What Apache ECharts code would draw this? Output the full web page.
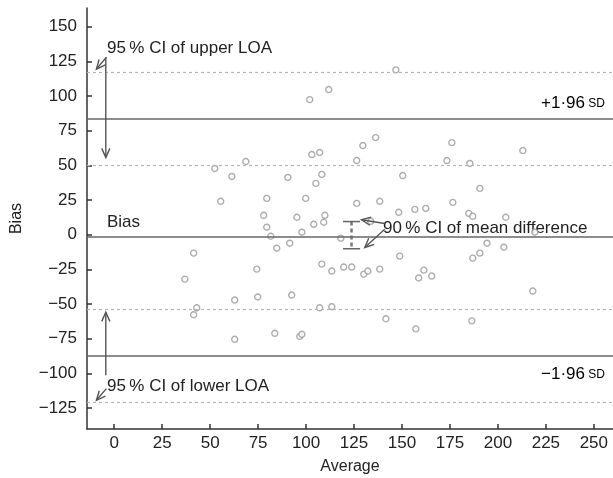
<!DOCTYPE html>
<html>
<head>
<meta charset="utf-8">
<script src="https://cdn.jsdelivr.net/npm/echarts@6/dist/echarts.min.js"></script>
<style>
  html, body { margin: 0; padding: 0; background: #fff; }
  #chart { width: 613px; height: 478px; }
</style>
</head>
<body>
<div id="chart"></div>
<script>
// tick labels
var xTicks = [0, 25, 50, 75, 100, 125, 150, 175, 200, 225, 250];
var yTicks = [-125, -100, -75, -50, -25, 0, 25, 50, 75, 100, 125, 150];

// average (x) and bias (y) of each pair
var avgValues = [
  146.8, 111.8, 101.9, 136.3, 129.6, 176.0, 103.0, 107.1, 126.4, 173.4,
  185.4, 213.0, 68.6, 52.4, 61.3, 90.5, 108.2, 105.1, 150.4, 190.6,
  55.5, 79.5, 99.8, 126.4, 138.4, 176.5, 77.9, 95.2, 109.8, 148.3,
  156.7, 162.4, 184.8, 186.9, 204.1, 104.0, 109.2, 79.5, 81.6, 97.8,
  84.7, 91.5, 118.1, 133.7, 219.2, 41.4, 36.8, 74.3, 108.2, 113.4,
  119.6, 123.8, 130.1, 132.2, 138.4, 148.8, 158.7, 161.4, 165.5, 186.9,
  190.6, 194.3, 203.1, 218.2, 62.8, 74.8, 92.5, 43.0, 41.4, 107.1,
  113.4, 141.6, 186.4, 62.8, 83.7, 96.7, 97.8, 157.2
];
var biasValues = [
  118.9, 104.7, 97.4, 70.0, 64.3, 66.4, 57.8, 59.3, 53.5, 53.5,
  51.4, 60.7, 52.8, 47.8, 42.0, 41.3, 43.5, 37.0, 42.7, 33.4,
  24.1, 26.2, 26.2, 22.6, 24.1, 23.3, 14.0, 12.6, 14.0, 16.2,
  18.3, 19.0, 15.4, 13.3, 12.6, 7.5, 9.0, 5.4, -1.1, 1.8,
  -9.7, -6.1, -2.5, 9.7, 1.8, -13.3, -32.0, -24.8, -21.2, -26.2,
  -23.3, -23.3, -28.4, -26.2, -24.8, -15.4, -31.2, -25.5, -29.8, -16.9,
  -13.3, -6.1, -9.0, -40.6, -47.1, -44.9, -43.5, -52.7, -57.7, -52.7,
  -51.9, -60.6, -62.1, -75.4, -71.1, -73.3, -71.8, -67.9
];

// limits of agreement and their confidence intervals
var meanBias = -1.3;
var upperLoa = 83.7;
var lowerLoa = -87.1;
var upperLoaCi = [50.1, 117.5];
var lowerLoaCi = [-120.5, -54.0];
var meanCi = [123.7, -10.1, 9.5]; // x, low, high

// annotation arrows: [x1, y1, x2, y2] (arrow head at the 2nd point)
var arrows = [
  [-4.4, 128.2, -4.4, 55.7],
  [-4.1, 128.0, -9.3, 119.4],
  [-4.4, -101.4, -4.4, -55.9],
  [-4.1, -111.0, -9.3, -119.4],
  [141.0, 8.1, 128.9, 10.8],
  [141.0, 4.0, 130.6, -9.2]
];

var font = "'Liberation Sans', Arial, sans-serif";
var points = avgValues.map(function (v, i) { return [v, biasValues[i]]; });

function minus(v) {
  return v < 0 ? '\u2212' + (-v) : String(v);
}

var myChart = echarts.init(document.getElementById('chart'));

var option = {
  animation: false,
  backgroundColor: '#fff',
  textStyle: { fontFamily: font },
  grid: { left: 87, right: 0, top: 8, bottom: 49, outerBoundsMode: 'none', containLabel: false },
  xAxis: {
    type: 'value',
    min: -14.2,
    max: 260,
    name: 'Average',
    nameLocation: 'middle',
    nameGap: 30,
    nameTextStyle: { fontSize: 16, color: '#222', fontFamily: font },
    axisLine: { onZero: false, lineStyle: { color: '#333', width: 1.5 } },
    axisTick: { inside: true, length: 5, customValues: xTicks, lineStyle: { color: '#333', width: 1.5 } },
    axisLabel: { customValues: xTicks, fontSize: 17, color: '#222', margin: 6, fontFamily: font },
    splitLine: { show: false }
  },
  yAxis: {
    type: 'value',
    min: -140.1,
    max: 163.5,
    name: 'Bias',
    nameLocation: 'middle',
    nameGap: 62,
    nameTextStyle: { fontSize: 16, color: '#222', fontFamily: font },
    axisLine: { onZero: false, lineStyle: { color: '#333', width: 1.5 } },
    axisTick: { inside: true, length: 5, customValues: yTicks, lineStyle: { color: '#333', width: 1.5 } },
    axisLabel: { customValues: yTicks, fontSize: 17, color: '#222', margin: 10, fontFamily: font, formatter: minus },
    splitLine: { show: false }
  },
  series: [
    {
      type: 'scatter',
      data: points,
      symbol: 'circle',
      symbolSize: 6,
      itemStyle: { color: '#fff', borderColor: '#999', borderWidth: 1.4 },
      z: 3,
      markLine: {
        silent: true,
        symbol: ['none', 'none'],
        label: { show: false },
        data: [
          { yAxis: upperLoa, lineStyle: { color: '#666', width: 1.5, type: 'solid' } },
          { yAxis: meanBias, lineStyle: { color: '#666', width: 1.5, type: 'solid' } },
          { yAxis: lowerLoa, lineStyle: { color: '#666', width: 1.5, type: 'solid' } },
          { yAxis: upperLoaCi[0], lineStyle: { color: '#b5b5b5', width: 1.2, type: [3, 3] } },
          { yAxis: upperLoaCi[1], lineStyle: { color: '#b5b5b5', width: 1.2, type: [3, 3] } },
          { yAxis: lowerLoaCi[0], lineStyle: { color: '#b5b5b5', width: 1.2, type: [3, 3] } },
          { yAxis: lowerLoaCi[1], lineStyle: { color: '#b5b5b5', width: 1.2, type: [3, 3] } }
        ]
      }
    },
    {
      // 90% CI of the mean difference
      type: 'custom',
      data: [meanCi],
      encode: { x: 0, y: [1, 2] },
      z: 4,
      renderItem: function (params, api) {
        var lo = api.coord([api.value(0), api.value(1)]);
        var hi = api.coord([api.value(0), api.value(2)]);
        var w = 8.5;
        var st = { stroke: '#666', lineWidth: 1.5 };
        return {
          type: 'group',
          children: [
            { type: 'line', shape: { x1: hi[0], y1: hi[1], x2: lo[0], y2: lo[1] },
              style: { stroke: '#777', lineWidth: 2.5, lineDash: [4, 3] } },
            { type: 'line', shape: { x1: hi[0] - w, y1: hi[1], x2: hi[0] + w, y2: hi[1] }, style: st },
            { type: 'line', shape: { x1: lo[0] - w, y1: lo[1], x2: lo[0] + w, y2: lo[1] }, style: st }
          ]
        };
      }
    },
    {
      // annotation arrows
      type: 'custom',
      data: arrows,
      encode: { x: [0, 2], y: [1, 3] },
      z: 5,
      renderItem: function (params, api) {
        var p1 = api.coord([api.value(0), api.value(1)]);
        var p2 = api.coord([api.value(2), api.value(3)]);
        var ang = Math.atan2(p2[1] - p1[1], p2[0] - p1[0]);
        var len = 10, a = 0.42;
        var h1 = [p2[0] - len * Math.cos(ang - a), p2[1] - len * Math.sin(ang - a)];
        var h2 = [p2[0] - len * Math.cos(ang + a), p2[1] - len * Math.sin(ang + a)];
        var st = { stroke: '#555', lineWidth: 1.4, fill: null };
        return {
          type: 'group',
          children: [
            { type: 'line', shape: { x1: p1[0], y1: p1[1], x2: p2[0], y2: p2[1] }, style: st },
            { type: 'polyline', shape: { points: [h1, p2, h2] }, style: st }
          ]
        };
      }
    }
  ],
  graphic: [
    { type: 'text', left: 107, top: 40, style: { text: '95\u2009% CI of upper LOA', font: '17px ' + font, fill: '#222' } },
    { type: 'text', left: 107, top: 214, style: { text: 'Bias', font: '17px ' + font, fill: '#222' } },
    { type: 'text', left: 383, top: 220, style: { text: '90\u2009% CI of mean difference', font: '17px ' + font, fill: '#222' } },
    { type: 'text', left: 107, top: 378, style: { text: '95\u2009% CI of lower LOA', font: '17px ' + font, fill: '#222' } },
    {
      type: 'text', right: 8, top: 95,
      style: {
        text: '{a|+1\u00b796} {b|SD}',
        rich: { a: { fontSize: 17, fontFamily: font, color: '#222' }, b: { fontSize: 12, fontFamily: font, color: '#222' } }
      }
    },
    {
      type: 'text', right: 8, top: 366,
      style: {
        text: '{a|\u22121\u00b796} {b|SD}',
        rich: { a: { fontSize: 17, fontFamily: font, color: '#222' }, b: { fontSize: 12, fontFamily: font, color: '#222' } }
      }
    }
  ]
};

myChart.setOption(option);
</script>
</body>
</html>
